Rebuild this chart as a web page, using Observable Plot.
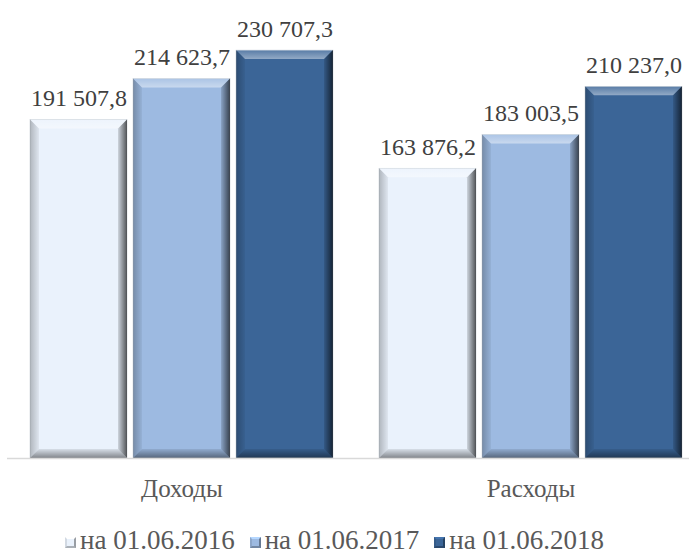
<!DOCTYPE html>
<html>
<head>
<meta charset="utf-8">
<script src="https://cdn.jsdelivr.net/npm/d3@7"></script>
<script src="https://cdn.jsdelivr.net/npm/@observablehq/plot@0.6"></script>
<style>
  body { margin: 0; background: #fff; font-family: "Liberation Serif", "DejaVu Serif", serif; }
  #chart { width: 689px; height: 515px; }
  #chart svg text { font-family: "Liberation Serif", "DejaVu Serif", serif; }
  #legend { display: flex; justify-content: center; align-items: center; gap: 15px; margin-top: 10px;
            padding-right: 20px; font-size: 27px; line-height: 30px; color: #595959; white-space: nowrap; }
  .item { display: flex; align-items: center; }
  .swatch { display: inline-block; width: 7px; height: 7px; margin-right: 4px; margin-top: 4px;
            border-style: solid; border-width: 2px; }
</style>
</head>
<body>
<div id="chart"></div>
<div id="legend"></div>
<script>
// ---- data ----
const categories = ["Доходы", "Расходы"];
const series = ["на 01.06.2016", "на 01.06.2017", "на 01.06.2018"];
const dohody = [191507.8, 214623.7, 230707.3];
const raskhody = [163876.2, 183003.5, 210237.0];
const colors = ["#EAF2FC", "#9DBAE1", "#3B6597"];

const data = [];
categories.forEach((c, i) => {
  const vals = i === 0 ? dohody : raskhody;
  series.forEach((s, j) => data.push({category: c, series: s, value: vals[j]}));
});

const fmt = d3.formatLocale({decimal: ",", thousands: " ", grouping: [3], currency: ["", ""]}).format(",.1f");
const serif = "'Liberation Serif', 'DejaVu Serif', serif";

const plot = Plot.plot({
  width: 689,
  height: 515,
  marginTop: 16,
  marginBottom: 57,
  marginLeft: 7,
  marginRight: 0,
  style: {fontFamily: serif, background: "#fff", overflow: "hidden"},
  fx: {domain: categories, range: [7, 705], padding: 0, label: null, axis: null},
  x: {domain: series, paddingInner: 0.06, paddingOuter: 0.21, axis: null},
  y: {domain: [0, 250000], axis: null},
  color: {domain: series, range: colors},
  marks: [
    Plot.barY(data, {fx: "category", x: "series", y: "value", fill: "series"}),
    Plot.ruleY([0], {stroke: "#d9d9d9", strokeWidth: 1.5}),
    Plot.text(data, {fx: "category", x: "series", y: "value", text: d => fmt(d.value),
      lineAnchor: "bottom", dy: -14, fontSize: 24, fill: "#404040", fontFamily: serif}),
    Plot.text(categories, {fx: d => d, text: d => d, frameAnchor: "bottom", dy: 38,
      fontSize: 25, fill: "#595959", fontFamily: serif})
  ]
});

// bevel effect on bars
const svg = d3.select(plot);
const defs = svg.insert("defs", ":first-child");
function grad(id, x2, y2, stops) {
  const g = defs.append("linearGradient").attr("id", id).attr("x1", 0).attr("y1", 0).attr("x2", x2).attr("y2", y2);
  stops.forEach(([o, c, a]) => g.append("stop").attr("offset", o).attr("stop-color", c).attr("stop-opacity", a));
}
grad("bvTop", 0, 1, [[0, "#fff", 0.15], [1, "#fff", 0.45]]);
grad("bvLeft", 1, 0, [[0, "#000", 0.25], [1, "#000", 0.05]]);
grad("bvRight", 1, 0, [[0, "#000", 0.12], [1, "#000", 0.65]]);
grad("bvBottom", 0, 1, [[0, "#000", 0.08], [1, "#000", 0.45]]);

svg.selectAll('g[aria-label="bar"] rect').each(function () {
  const r = d3.select(this);
  const x = +r.attr("x"), y = +r.attr("y"), w = +r.attr("width"), h = +r.attr("height");
  const b = 9;
  const p = d3.select(this.parentNode);
  r.attr("stroke", "#c9d0d8").attr("stroke-width", 0.6);
  const polys = [
    ["bvTop", [[x, y], [x + w, y], [x + w - b, y + b], [x + b, y + b]]],
    ["bvLeft", [[x, y], [x + b, y + b], [x + b, y + h - b], [x, y + h]]],
    ["bvRight", [[x + w, y], [x + w, y + h], [x + w - b, y + h - b], [x + w - b, y + b]]],
    ["bvBottom", [[x, y + h], [x + w, y + h], [x + w - b, y + h - b], [x + b, y + h - b]]]
  ];
  polys.forEach(([g, pts]) => p.append("polygon").attr("points", pts.map(q => q.join(",")).join(" ")).attr("fill", `url(#${g})`));
});

document.getElementById("chart").appendChild(plot);

// legend
const legend = d3.select("#legend");
series.forEach((s, i) => {
  const c = d3.color(colors[i]);
  const it = legend.append("div").attr("class", "item");
  it.append("span").attr("class", "swatch")
    .style("background", colors[i])
    .style("border-color", `${c.brighter(0.4)} ${c.darker(1.2)} ${c.darker(0.9)} ${c.darker(0.3)}`);
  it.append("span").text(s);
});
</script>
</body>
</html>
